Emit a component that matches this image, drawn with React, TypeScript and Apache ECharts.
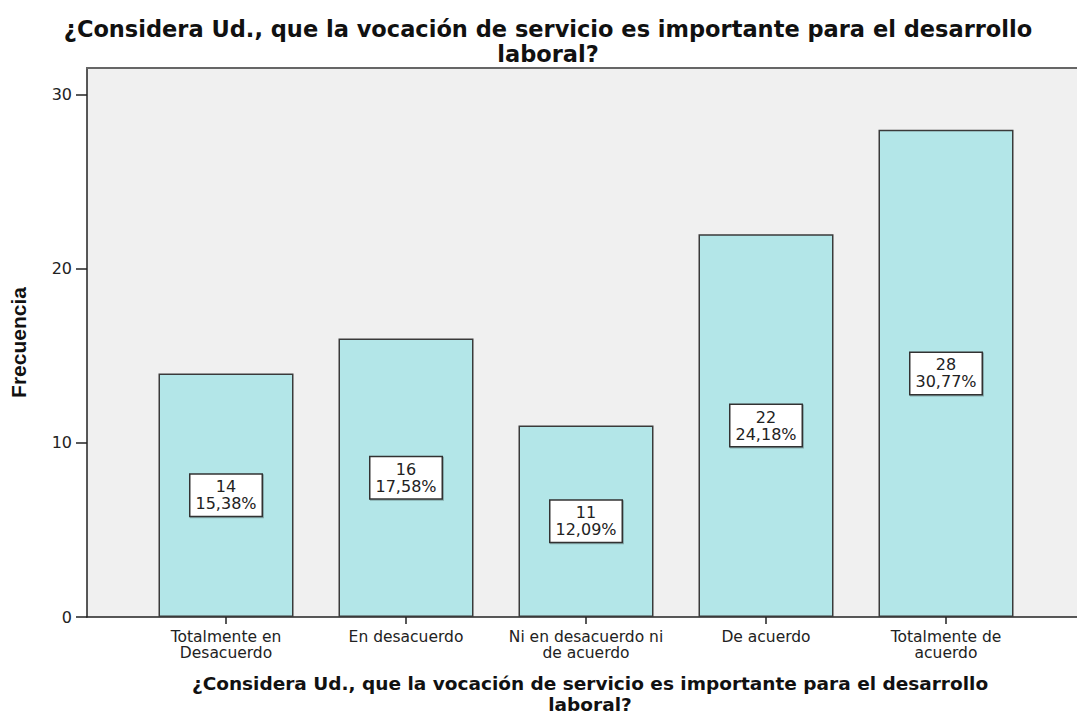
import React, { useEffect, useRef } from "react";
import * as echarts from "echarts";

const categories = [
  "Totalmente en\nDesacuerdo",
  "En desacuerdo",
  "Ni en desacuerdo ni\nde acuerdo",
  "De acuerdo",
  "Totalmente de\nacuerdo",
];
const frequencies = [14, 16, 11, 22, 28];
const yTicks = [0, 10, 20, 30];
const titleText = "¿Considera Ud., que la vocación de servicio es importante para el desarrollo\nlaboral?";
const yName = "Frecuencia";

export default function App() {
  const ref = useRef<HTMLDivElement>(null);
  useEffect(() => {
    if (!ref.current) return;
    const chart = echarts.init(ref.current, undefined, { renderer: "svg" });
    const total = frequencies.reduce((a, b) => a + b, 0);
    const pcts = frequencies.map((v) => ((v / total) * 100).toFixed(2).replace(".", ",") + "%");
    const yMax = 31.55;
    const top = 68;
    const bottom = 102;
    chart.setOption({
      animation: false,
      backgroundColor: "#ffffff",
      title: [
        {
          text: titleText,
          left: 543,
          top: 11,
          textAlign: "center",
          textStyle: {
            fontFamily: "DejaVu Sans",
            fontWeight: "bold",
            fontSize: 22.5,
            lineHeight: 25,
            color: "#111",
          },
        },
        {
          text: titleText,
          left: 585,
          top: 668,
          textAlign: "center",
          textStyle: {
            fontFamily: "DejaVu Sans",
            fontWeight: "bold",
            fontSize: 18.5,
            lineHeight: 21,
            color: "#111",
          },
        },
      ],
      grid: [
        {
          left: 86,
          right: 0,
          top,
          bottom,
          show: true,
          backgroundColor: "#f0f0f0",
          borderWidth: 0,
        },
        { left: 136, right: 41, top, bottom },
      ],
      graphic: [
        {
          type: "line",
          shape: { x1: 86, y1: top, x2: 1077, y2: top },
          style: { stroke: "#666", lineWidth: 2 },
          z: 10,
        },
      ],
      xAxis: [
        {
          type: "value",
          gridIndex: 0,
          min: 0,
          max: 1,
          axisLine: { show: true, lineStyle: { color: "#222", width: 1.5 } },
          axisTick: { show: false },
          axisLabel: { show: false },
          splitLine: { show: false },
        },
        {
          type: "category",
          gridIndex: 1,
          data: categories,
          axisLine: { show: false },
          axisTick: { show: true, alignWithLabel: true, length: 7, lineStyle: { color: "#222", width: 1.5 } },
          axisLabel: {
            interval: 0,
            margin: 12,
            fontFamily: "DejaVu Sans",
            fontSize: 15.5,
            lineHeight: 16,
            color: "#222",
          },
        },
      ],
      yAxis: [
        {
          type: "value",
          gridIndex: 0,
          min: 0,
          max: yMax,
          interval: 10,
          name: yName,
          nameLocation: "middle",
          nameGap: 58,
          nameTextStyle: {
            fontFamily: "Liberation Sans",
            fontWeight: "bold",
            fontSize: 21,
            color: "#111",
          },
          axisLine: { show: true, lineStyle: { color: "#222", width: 1.5 } },
          axisTick: { show: true, length: 11, lineStyle: { color: "#222", width: 1.5 } },
          axisLabel: {
            showMaxLabel: false,
            margin: 15,
            fontFamily: "DejaVu Sans",
            fontSize: 16,
            color: "#222",
            formatter: (v: number) => (yTicks.includes(v) ? String(v) : ""),
          },
          splitLine: { show: false },
        },
        {
          type: "value",
          gridIndex: 1,
          min: 0,
          max: yMax,
          show: false,
          splitLine: { show: false },
        },
      ],
      series: [
        {
          type: "bar",
          xAxisIndex: 1,
          yAxisIndex: 1,
          data: frequencies,
          barWidth: 135,
          itemStyle: { color: "#b3e6e8", borderColor: "#3a3a3a", borderWidth: 1.5 },
          label: {
            show: true,
            position: "inside",
            formatter: (p: any) => `${p.value}\n${pcts[p.dataIndex]}`,
            backgroundColor: "#ffffff",
            borderColor: "#333",
            borderWidth: 1.5,
            padding: [4, 5, 3, 5],
            fontFamily: "DejaVu Sans",
            fontSize: 16,
            lineHeight: 17,
            color: "#222",
            shadowColor: "rgba(0,0,0,0.25)",
            shadowOffsetX: 1,
            shadowOffsetY: 1,
          },
        },
      ],
    });
    return () => chart.dispose();
  }, []);
  return (
    <div
      ref={ref}
      style={{ position: "fixed", left: 0, top: 0, width: 1077, height: 719 }}
    />
  );
}
